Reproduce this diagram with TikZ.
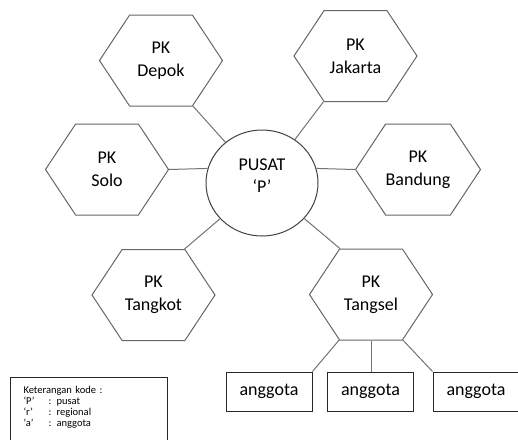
\documentclass[tikz,border=0pt]{standalone}
\usepackage{fontspec}
\setmainfont{Carlito}
\usetikzlibrary{shapes.geometric,shapes.symbols}

\begin{document}
\begin{tikzpicture}[x=1pt,y=-1pt,font=\fontsize{18}{23}\selectfont,hexa/.style={signal,signal to=east and west,signal pointer angle=113,draw=black!60,line width=1pt,minimum width=123pt,minimum height=91pt,inner sep=0pt,align=center},hub/.style={ellipse,draw=black!75,line width=1pt,minimum width=112pt,minimum height=106pt,inner sep=0pt,align=center,font=\fontsize{18}{22}\selectfont},member/.style={draw=black!85,line width=1pt,minimum width=86pt,minimum height=39pt,inner sep=0pt},legend/.style={draw=black!85,line width=1pt,align=left,text width=131pt,inner xsep=13pt,inner ysep=9pt,font=\fontsize{10.5}{11}\selectfont},link/.style={draw=black!55,line width=1pt}]
\useasboundingbox (0,0) rectangle (518,439);
\node[hub] (pusat) at (262,183) {PUSAT\\‘P’\\[-8pt]\mbox{}};
\node[hexa] (depok) at (161,60.5) {PK\\Depok};
\node[hexa] (jakarta) at (355.5,56) {PK\\Jakarta};
\node[hexa] (solo) at (107,169.5) {PK\\Solo};
\node[hexa] (bandung) at (418,169.5) {PK\\Bandung};
\node[hexa] (tangkot) at (153.5,295) {PK\\Tangkot};
\node[hexa] (tangsel) at (371,294.5) {PK\\Tangsel};
\node[member] (a1) at (269,391.5) {anggota};
\node[member] (a2) at (370.5,391.5) {anggota};
\node[member] (a3) at (476,391.5) {anggota};
\node[legend,anchor=north west] (kode) at (10,377) {Keterangan kode :\\\makebox[25pt][l]{‘P’}: pusat\\\makebox[25pt][l]{‘r’}: regional\\\makebox[25pt][l]{‘a’}: anggota\\[-4pt]\mbox{}};
\draw[link] (pusat) -- (depok.305);
\draw[link] (pusat) -- (jakarta.235);
\draw[link] (solo.east) -- (pusat.165);
\draw[link] (bandung.west) -- (pusat.15);
\draw[link] (pusat) -- (tangkot.56);
\draw[link] (pusat) -- (tangsel.124);
\draw[link] (tangsel.235) -- (a1.north east);
\draw[link] (tangsel.south) -- (tangsel.south |- a2.north);
\draw[link] (tangsel.305) -- (a3.north west);
\end{tikzpicture}
\end{document}
